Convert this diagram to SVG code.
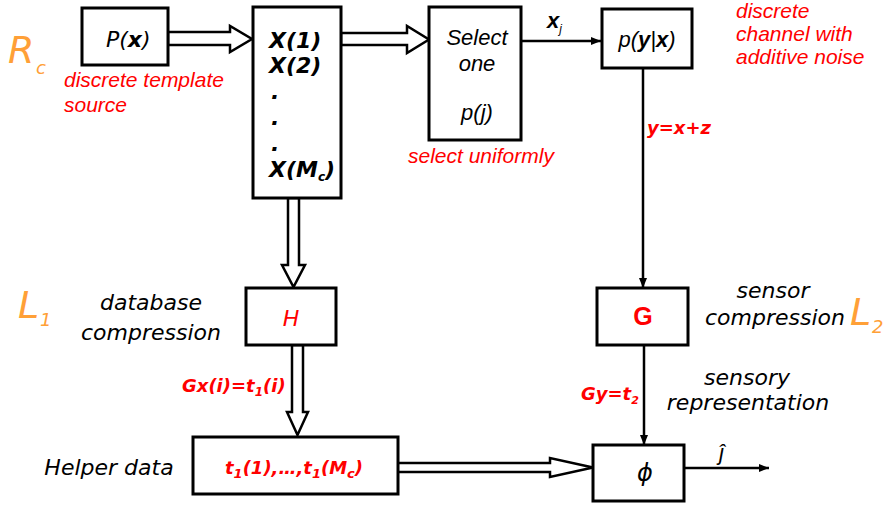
<svg xmlns="http://www.w3.org/2000/svg" width="892" height="506" viewBox="0 0 892 506">
  <defs>
    <marker id="head" viewBox="0 0 10 10" refX="10" refY="5" markerWidth="10" markerHeight="10" markerUnits="userSpaceOnUse" orient="auto">
      <path d="M0,1 L10,5 L0,9 Z" fill="#000"/>
    </marker>
  </defs>
  <style>
    .box { fill: #fff; stroke: #000; stroke-width: 3; }
    .hollow { fill: #fff; stroke: #000; stroke-width: 2.5; stroke-linejoin: miter; }
    .wire { fill: none; stroke: #000; stroke-width: 2.5; marker-end: url(#head); }
    .sketch { font-family: "DejaVu Sans", sans-serif; font-style: oblique; font-size: 22px; fill: #000; }
    .ital { font-family: "Liberation Sans", Arial, sans-serif; font-style: italic; font-size: 22px; }
    .note { font-family: "Liberation Sans", Arial, sans-serif; font-style: italic; font-size: 21px; fill: #ff0000; }
    .eq { font-family: "DejaVu Sans", sans-serif; font-style: oblique; font-weight: bold; font-size: 18px; fill: #ff0000; }
    .rate { font-family: "DejaVu Sans", sans-serif; font-style: oblique; font-size: 38px; fill: #ffa037; }
    .rsub { font-family: "DejaVu Sans", sans-serif; font-style: oblique; font-size: 18px; fill: #ffa037; }
    .red { fill: #ff0000; }
  </style>

  <!-- connectors -->
  <g id="connectors">
    <polygon class="hollow" points="168,32 230,32 230,26 252,39 230,52 230,45 168,45"/>
    <polygon class="hollow" points="341,33 407,33 407,26 429,39.5 407,53 407,45 341,45"/>
    <polygon class="hollow" points="288,198 288,265 282,265 293.5,287 305,265 299,265 299,198"/>
    <polygon class="hollow" points="292,345 292,412 287,412 297.5,435 308,412 303,412 303,345"/>
    <polygon class="hollow" points="394,463 550,463 550,458 593,467.5 550,477 550,472 394,472"/>
    <line class="wire" x1="521" y1="41" x2="601" y2="41"/>
    <line class="wire" x1="643" y1="68" x2="643" y2="288"/>
    <line class="wire" x1="644" y1="345" x2="644" y2="445"/>
    <line class="wire" x1="684" y1="468" x2="769" y2="468"/>
  </g>

  <!-- template source -->
  <g id="source">
    <rect class="box" x="82" y="8" width="86" height="57"/>
    <text class="sketch" x="106" y="47" font-size="20">P(<tspan font-weight="bold">x</tspan>)</text>
    <text class="note" x="64" y="87">discrete template</text>
    <text class="note" x="64" y="112">source</text>
  </g>

  <!-- codebook -->
  <g id="codebook">
    <rect class="box" x="253" y="7" width="88" height="191"/>
    <g class="sketch" font-weight="bold" font-size="20">
      <text x="269" y="48">X(1)</text>
      <text x="269" y="73">X(2)</text>
      <text x="271" y="99">.</text>
      <text x="271" y="125">.</text>
      <text x="271" y="151">.</text>
      <text x="269" y="177">X(M<tspan font-size="12" dy="4">c</tspan><tspan dy="-4">)</tspan></text>
    </g>
  </g>

  <!-- selector -->
  <g id="selector">
    <rect class="box" x="429" y="7" width="92" height="133"/>
    <text class="ital" x="477" y="45" text-anchor="middle">Select</text>
    <text class="ital" x="477" y="71" text-anchor="middle">one</text>
    <text class="ital" x="477" y="120" text-anchor="middle">p(j)</text>
    <text class="note" x="408" y="163">select uniformly</text>
    <text class="ital" x="547" y="28" font-weight="bold" font-size="21">x<tspan font-size="12" font-weight="normal" dy="5">j</tspan></text>
  </g>

  <!-- channel -->
  <g id="channel">
    <rect class="box" x="602" y="9" width="90" height="59"/>
    <text class="ital" x="647" y="47" text-anchor="middle">p(<tspan font-weight="bold">y</tspan>|<tspan font-weight="bold">x</tspan>)</text>
    <text class="note" x="736" y="18">discrete</text>
    <text class="note" x="736" y="41">channel with</text>
    <text class="note" x="736" y="64">additive noise</text>
    <text class="eq" x="647" y="134">y=x+z</text>
  </g>

  <!-- rate labels -->
  <g id="rc">
    <text class="rate" x="8" y="63">R</text>
    <text class="rsub" x="36" y="74">c</text>
  </g>
  <g id="l1">
    <text class="rate" x="18" y="318">L</text>
    <text class="rsub" x="40" y="326">1</text>
  </g>
  <g id="l2">
    <text class="rate" x="850" y="325">L</text>
    <text class="rsub" x="872" y="333">2</text>
  </g>

  <!-- database compression -->
  <g id="hbox">
    <rect class="box" x="246" y="288" width="90" height="57"/>
    <text class="sketch red" x="291" y="326" text-anchor="middle" font-size="27">H</text>
    <text class="sketch" x="151" y="310" text-anchor="middle">database</text>
    <text class="sketch" x="151" y="340" text-anchor="middle">compression</text>
    <text class="eq" x="182" y="392">Gx(i)=t<tspan font-size="12" dy="4">1</tspan><tspan dy="-4">(i)</tspan></text>
  </g>

  <!-- sensor compression -->
  <g id="gbox">
    <rect class="box" x="597" y="288" width="91" height="57"/>
    <text class="red" x="643" y="325" text-anchor="middle" font-family="Liberation Sans, Arial, sans-serif" font-weight="bold" font-size="25">G</text>
    <text class="sketch" x="773" y="298" text-anchor="middle">sensor</text>
    <text class="sketch" x="775" y="325" text-anchor="middle">compression</text>
    <text class="sketch" x="747" y="385" text-anchor="middle">sensory</text>
    <text class="sketch" x="748" y="410" text-anchor="middle">representation</text>
    <text class="eq" x="581" y="400">Gy=t<tspan font-size="11" dy="4">2</tspan></text>
  </g>

  <!-- helper data -->
  <g id="helper">
    <rect class="box" x="193" y="437" width="205" height="57"/>
    <text class="sketch" x="109" y="475" text-anchor="middle" font-size="21">Helper data</text>
    <text class="eq" x="294" y="474" text-anchor="middle" font-size="21">t<tspan font-size="13" dy="4">1</tspan><tspan dy="-4">(1),…,t</tspan><tspan font-size="13" dy="4">1</tspan><tspan dy="-4">(M</tspan><tspan font-size="13" dy="4">c</tspan><tspan dy="-4">)</tspan></text>
  </g>

  <!-- decoder -->
  <g id="decoder">
    <rect class="box" x="593" y="445" width="91" height="56"/>
    <text x="645" y="481" text-anchor="middle" font-family="DejaVu Sans, sans-serif" font-style="oblique" font-size="24">ϕ</text>
    <text class="ital" x="719" y="460" font-size="28">ĵ</text>
  </g>
</svg>
